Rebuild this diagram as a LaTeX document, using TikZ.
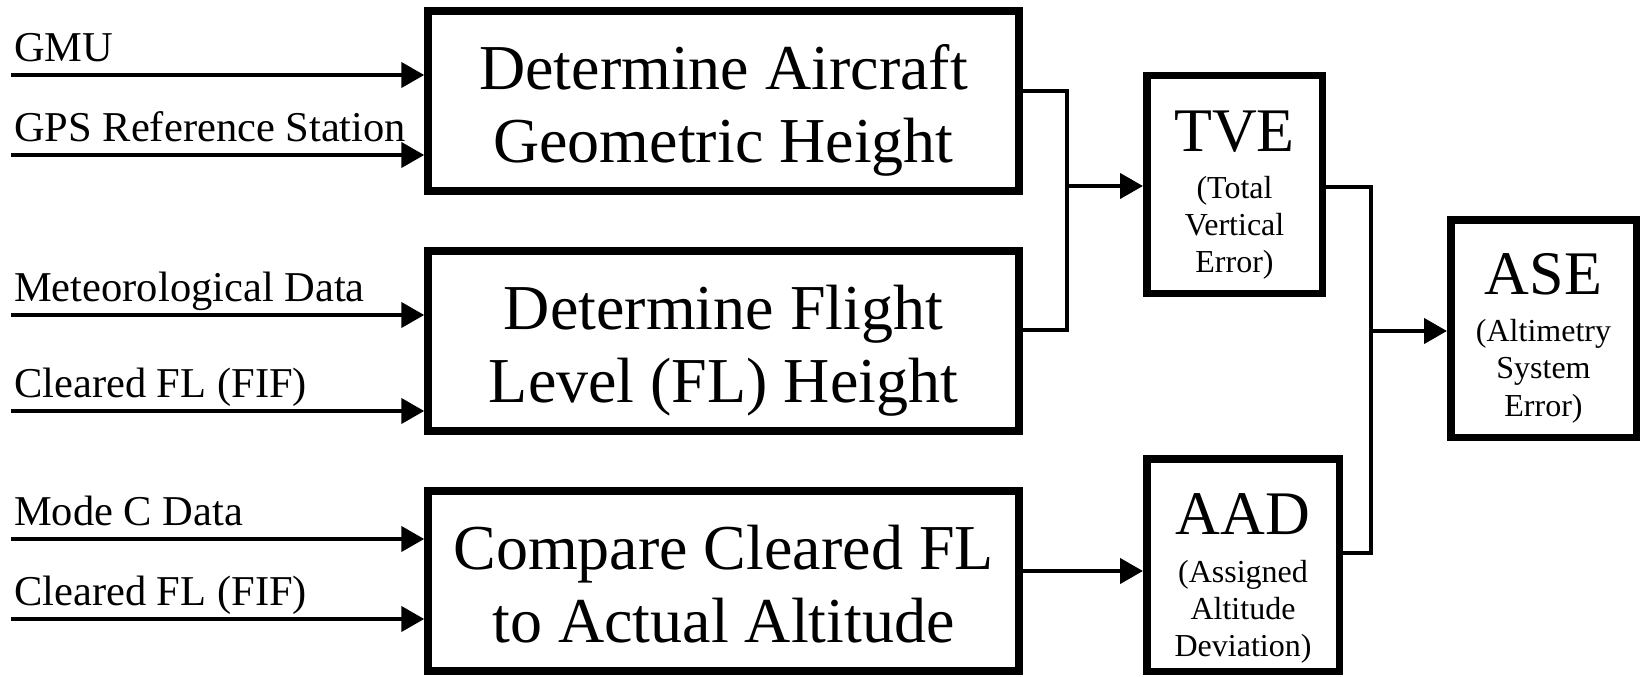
\documentclass[tikz,border=0pt]{standalone}
\usepackage{fontspec}
\setmainfont{Liberation Serif}
\usetikzlibrary{arrows.meta}
\begin{document}
\begin{tikzpicture}[x=1pt,y=-1pt,line join=miter,
  bigbox/.style={draw, line width=7.5pt, minimum width=591pt, minimum height=180pt, inner sep=0pt},
  smallbox/.style={draw, line width=7.5pt, inner sep=0pt},
  bigtext/.style={anchor=base, inner sep=0pt, font=\fontsize{64}{73}\selectfont},
  titletext/.style={anchor=base, inner sep=0pt, font=\fontsize{62}{70}\selectfont},
  subtext/.style={anchor=base, inner sep=0pt, font=\fontsize{32}{37}\selectfont},
  intext/.style={anchor=base west, inner sep=0pt, font=\fontsize{42.5}{48}\selectfont},
  wire/.style={line width=4pt},
  arr/.style={line width=4.2pt, -{Triangle[length=23pt,width=25pt]}}]
\useasboundingbox (0,0) rectangle (1642,677);

% process boxes
\node[bigbox] (box1) at (723.5,101) {};
\node[bigbox] (box2) at (723.5,341) {};
\node[bigbox] (box3) at (723.5,581) {};
\node[bigtext] (b1a) at (723.5,89) {Determine Aircraft};
\node[bigtext] (b1b) at (723.5,162) {Geometric Height};
\node[bigtext] (b2a) at (723.5,329) {Determine Flight};
\node[bigtext] (b2b) at (723.5,402) {Level (FL) Height};
\node[bigtext] (b3a) at (723.5,569) {Compare Cleared FL};
\node[bigtext] (b3b) at (723.5,642) {to Actual Altitude};

% result boxes
\node[smallbox, minimum width=175.5pt, minimum height=217.5pt] (tve) at (1234.5,184.5) {};
\node[titletext] (tveT) at (1234.5,151) {TVE};
\node[subtext] (tve1) at (1234.5,198) {(Total};
\node[subtext] (tve2) at (1234.5,235) {Vertical};
\node[subtext] (tve3) at (1234.5,272) {Error)};

\node[smallbox, minimum width=192.5pt, minimum height=212.5pt] (aad) at (1243,565) {};
\node[titletext] (aadT) at (1243,534) {AAD};
\node[subtext] (aad1) at (1243,582) {(Assigned};
\node[subtext] (aad2) at (1243,619) {Altitude};
\node[subtext] (aad3) at (1243,656) {Deviation)};

\node[smallbox, minimum width=185.5pt, minimum height=217.5pt] (ase) at (1543.5,328.5) {};
\node[titletext] (aseT) at (1543.5,294) {ASE};
\node[subtext] (ase1) at (1543.5,341) {(Altimetry};
\node[subtext] (ase2) at (1543.5,378) {System};
\node[subtext] (ase3) at (1543.5,416) {Error)};

% inputs
\coordinate (in1) at (11,75);
\coordinate (in2) at (11,155);
\coordinate (in3) at (11,315);
\coordinate (in4) at (11,411);
\coordinate (in5) at (11,539);
\coordinate (in6) at (11,619);
\draw[arr] (in1) -- (in1 -| box1.west);
\draw[arr] (in2) -- (in2 -| box1.west);
\draw[arr] (in3) -- (in3 -| box2.west);
\draw[arr] (in4) -- (in4 -| box2.west);
\draw[arr] (in5) -- (in5 -| box3.west);
\draw[arr] (in6) -- (in6 -| box3.west);
\node[intext] (l1) at (14,61.5) {GMU};
\node[intext] (l2) at (14,141.5) {GPS Reference Station};
\node[intext] (l3) at (14,301.5) {Meteorological Data};
\node[intext] (l4) at (14,397.5) {Cleared FL (FIF)};
\node[intext] (l5) at (14,525.5) {Mode C Data};
\node[intext] (l6) at (14,605.5) {Cleared FL (FIF)};

% merge of the two height paths into TVE
\coordinate (jA) at (1067,91);
\coordinate (jB) at (1067,330);
\coordinate (jC) at (1067,186);
\draw[wire] (box1.east |- jA) -- (jA) -- (jB) -- (box2.east |- jB);
\draw[arr] (jC) -- (jC -| tve.west);

% comparison into AAD
\coordinate (lA) at (1021,571);
\draw[arr] (box3.east |- lA) -- (lA -| aad.west);

% merge of TVE and AAD into ASE
\coordinate (kA) at (1371,187);
\coordinate (kB) at (1371,553);
\coordinate (kC) at (1371,331);
\draw[wire] (tve.east |- kA) -- (kA) -- (kB) -- (aad.east |- kB);
\draw[arr] (kC) -- (kC -| ase.west);
\end{tikzpicture}
\end{document}
